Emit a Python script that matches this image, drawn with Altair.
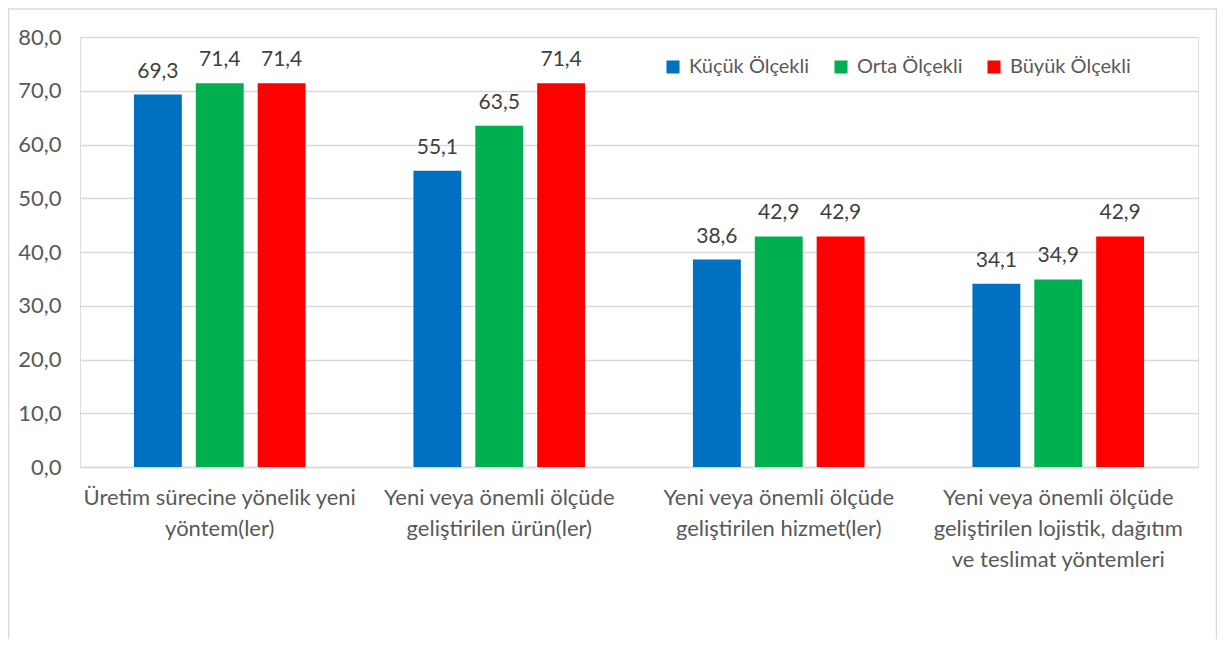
import altair as alt
import pandas as pd

categories = [
    "Üretim sürecine yönelik yeni|yöntem(ler)",
    "Yeni veya önemli ölçüde|geliştirilen ürün(ler)",
    "Yeni veya önemli ölçüde|geliştirilen hizmet(ler)",
    "Yeni veya önemli ölçüde|geliştirilen lojistik, dağıtım|ve teslimat yöntemleri",
]
series = ["Küçük Ölçekli", "Orta Ölçekli", "Büyük Ölçekli"]
kucuk = [69.3, 55.1, 38.6, 34.1]
orta = [71.4, 63.5, 42.9, 34.9]
buyuk = [71.4, 71.4, 42.9, 42.9]
colors = ["#0070C0", "#00B050", "#FF0000"]

rows = []
for i, c in enumerate(categories):
    for s, vals in zip(series, [kucuk, orta, buyuk]):
        rows.append({"kategori": c, "seri": s, "deger": vals[i],
                     "etiket": f"{vals[i]:.1f}".replace(".", ",")})
df = pd.DataFrame(rows)

FONT = "Lato"
GREY = "#595959"

x = alt.X("kategori:N", sort=categories,
          scale=alt.Scale(paddingInner=0.386, paddingOuter=0.193),
          axis=alt.Axis(title=None, labelAngle=0, labelExpr="split(datum.label, '|')",
                        labelFontSize=22, labelColor=GREY, labelFont=FONT,
                        labelPadding=20, labelLineHeight=31, ticks=False,
                        domainColor="#d9d9d9", domainWidth=1.5, labelLimit=400))
xo = alt.XOffset("seri:N", sort=series,
                 scale=alt.Scale(paddingInner=0.226, paddingOuter=0))
y = alt.Y("deger:Q", scale=alt.Scale(domain=[0, 80]),
          axis=alt.Axis(title=None, values=[0, 10, 20, 30, 40, 50, 60, 70, 80],
                        labelExpr="replace(format(datum.value, '.1f'), '.', ',')",
                        labelFontSize=22, labelColor=GREY, labelFont=FONT,
                        labelPadding=19, ticks=False, domain=False,
                        gridColor="#d9d9d9", gridWidth=1.5))

base = alt.Chart(df)
bars = base.mark_bar().encode(
    x=x, xOffset=xo, y=y,
    color=alt.Color("seri:N", sort=series,
                    scale=alt.Scale(domain=series, range=colors),
                    legend=alt.Legend(title=None, orient="none", legendX=583, legendY=20,
                                      direction="horizontal", symbolType="square",
                                      symbolSize=170, symbolStrokeWidth=0,
                                      labelFontSize=20, labelColor=GREY, labelFont=FONT,
                                      columnPadding=21, labelOffset=6)),
)
labels = base.mark_text(baseline="alphabetic", dy=-17, fontSize=21, font=FONT, color="#404040").encode(
    x=x, xOffset=xo, y=y, text="etiket:N",
)

frame = alt.Chart(pd.DataFrame({"a": [0]})).mark_rect(
    fill=None, stroke="#d9d9d9", strokeWidth=1.5, clip=False
).encode(
    x=alt.value(-71.5), x2=alt.value(1136.5), y=alt.value(-28), y2=alt.value(700)
)

chart = alt.layer(frame, bars, labels).properties(
    width=1118, height=430,
    autosize=alt.AutoSizeParams(type="none"),
    padding={"left": 72, "top": 29, "right": 19, "bottom": 172},
).configure_view(stroke=None).configure(background="white")

chart.save("out.html", embed_options={"renderer": "svg", "actions": False})
